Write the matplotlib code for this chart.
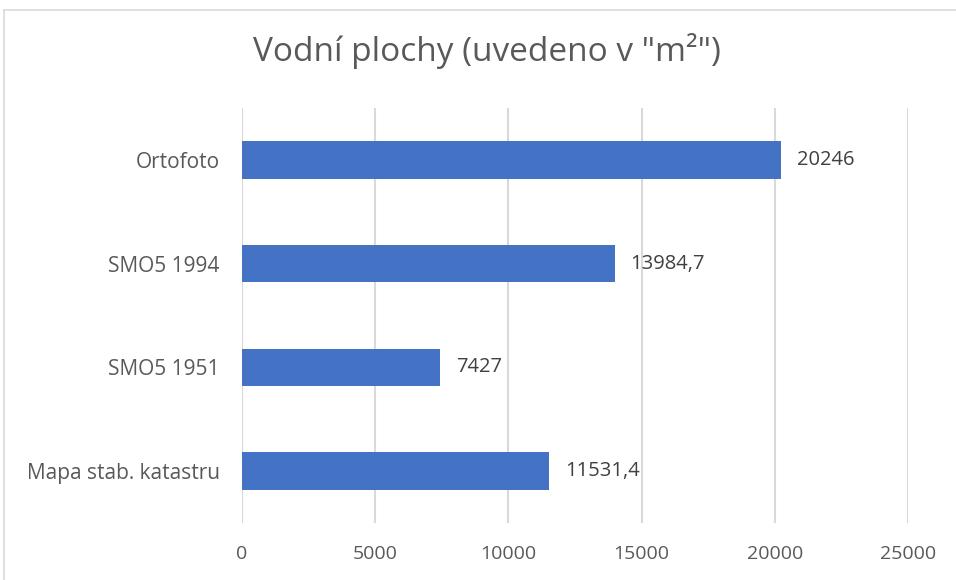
import matplotlib

matplotlib.use("Agg")
import matplotlib.pyplot as plt
from matplotlib.lines import Line2D

categories = ["Mapa stab. katastru", "SMO5 1951", "SMO5 1994", "Ortofoto"]
values = [11531.4, 7427, 13984.7, 20246]
xticks = [0, 5000, 10000, 15000, 20000, 25000]
title = "Vodní plochy (uvedeno v \"m²\")"

plt.rcParams["font.family"] = ["Open Sans", "DejaVu Sans"]

fig = plt.figure(figsize=(9.56, 5.8), dpi=100)
ax = fig.add_axes([242 / 956, 1 - 523 / 580, 666 / 956, 415 / 580])

ypos = list(range(len(categories)))
ax.barh(ypos, values, height=0.36, color="#4472C4", zorder=3)

for y, v in zip(ypos, values):
    lbl = f"{v:g}".replace(".", ",")
    ax.annotate(lbl, (v, y), xytext=(16, 0), textcoords="offset pixels",
                va="center", ha="left", fontsize=14.5, color="#404040")

ax.set_xlim(0, 25000)
ax.set_ylim(-0.5, len(categories) - 0.5)
ax.set_xticks(xticks)
ax.set_xticklabels([str(t) for t in xticks])
ax.set_yticks(ypos)
ax.set_yticklabels(categories)
ax.tick_params(axis="both", length=0, labelsize=14, colors="#595959")
ax.tick_params(axis="y", labelsize=15, pad=16)
ax.tick_params(axis="x", pad=16)
ax.grid(axis="x", color="#D9D9D9", lw=1.5, zorder=0)
for s in ax.spines.values():
    s.set_visible(False)

fig.text(487 / 956, 1 - 51 / 580, title, ha="center", va="center", fontsize=24, color="#595959")

# chart frame (only top/left edges visible in the reference)
fig.add_artist(Line2D([4 / 956, 1], [1 - 10 / 580, 1 - 10 / 580], transform=fig.transFigure, color="#D9D9D9", lw=1.2))
fig.add_artist(Line2D([4 / 956, 4 / 956], [0, 1 - 10 / 580], transform=fig.transFigure, color="#D9D9D9", lw=1.2))

fig.savefig("out.png", dpi=100)
